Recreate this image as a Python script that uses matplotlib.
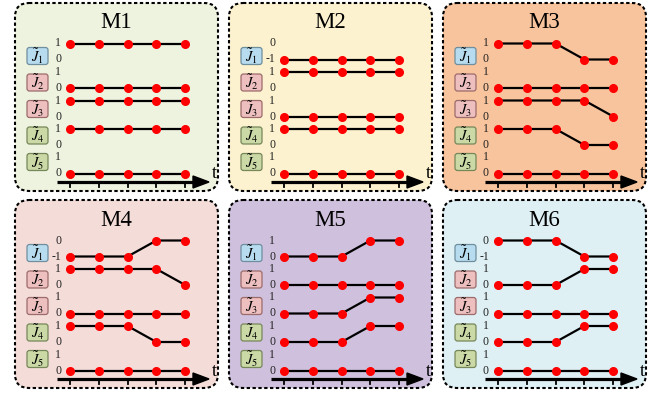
import matplotlib
matplotlib.use("Agg")
import matplotlib.pyplot as plt
from matplotlib.patches import FancyBboxPatch, Polygon
import numpy as np

plt.rcParams['font.family'] = ['Liberation Serif', 'DejaVu Serif']
plt.rcParams['mathtext.fontset'] = 'stix'

# data: values of J1..J5 at 5 time steps for each mode
titles = ["M1", "M2", "M3", "M4", "M5", "M6"]
values = {
    "M1": [[1, 1, 1, 1, 1], [0, 0, 0, 0, 0], [1, 1, 1, 1, 1], [1, 1, 1, 1, 1], [0, 0, 0, 0, 0]],
    "M2": [[-1, -1, -1, -1, -1], [1, 1, 1, 1, 1], [0, 0, 0, 0, 0], [1, 1, 1, 1, 1], [0, 0, 0, 0, 0]],
    "M3": [[1, 1, 1, 0, 0], [0, 0, 0, 0, 0], [1, 1, 1, 1, 0], [1, 1, 1, 0, 0], [0, 0, 0, 0, 0]],
    "M4": [[-1, -1, -1, 0, 0], [1, 1, 1, 1, 0], [0, 0, 0, 0, 0], [1, 1, 1, 0, 0], [0, 0, 0, 0, 0]],
    "M5": [[0, 0, 0, 1, 1], [0, 0, 0, 0, 0], [0, 0, 0, 1, 1], [0, 0, 0, 1, 1], [0, 0, 0, 0, 0]],
    "M6": [[0, 0, 0, -1, -1], [0, 0, 0, 1, 1], [0, 0, 0, 0, 0], [0, 0, 0, 1, 1], [0, 0, 0, 0, 0]],
}
# value range (low, high) of J1 in each mode; J2..J5 are always 0..1
j1_range = {"M1": (0, 1), "M2": (-1, 0), "M3": (0, 1), "M4": (-1, 0), "M5": (0, 1), "M6": (-1, 0)}
row_labels = [r"$\tilde{J}_1$", r"$\tilde{J}_2$", r"$\tilde{J}_3$", r"$\tilde{J}_4$", r"$\tilde{J}_5$"]

panel_bg = ["#eef3df", "#fdf2cf", "#f8c49d", "#f4dcd8", "#cfc1dd", "#dff0f5"]
label_fc = ["#b8dcef", "#eebfbf", "#eebfbf", "#cad9a5", "#cad9a5"]
label_ec = ["#6f8e9e", "#9c6b6b", "#9c6b6b", "#76875a", "#76875a"]

# layout in pixels
FW, FH = 664, 396
PW, PH = 205, 190
lefts = [14, 228, 442]
tops = [2, 199]
X0, DX = 56, 28.8          # first time step, spacing
ROW0, ROWSTEP, ROWH = 41.5, 28.5, 16
AXIS_Y = 180

fig = plt.figure(figsize=(FW / 100, FH / 100), dpi=100)

for i, name in enumerate(titles):
    left = lefts[i % 3]
    top = tops[i // 3]
    ax = fig.add_axes([left / FW, 1 - (top + PH) / FH, PW / FW, PH / FH])
    ax.set_xlim(0, PW)
    ax.set_ylim(PH, 0)
    ax.axis("off")

    ax.add_patch(FancyBboxPatch((1, 1), PW - 2, PH - 2,
                                boxstyle="round,pad=0,rounding_size=14",
                                fc=panel_bg[i], ec="black", lw=1.5,
                                ls=(0, (1.6, 1.2)), clip_on=False))
    ax.text(PW / 2, 21, name, ha="center", va="center", fontsize=16.5)

    xs = X0 + DX * np.arange(5)
    for r in range(5):
        lo, hi = j1_range[name] if r == 0 else (0, 1)
        y_top = ROW0 + ROWSTEP * r
        v = np.array(values[name][r], dtype=float)
        ys = y_top + (hi - v) / (hi - lo) * ROWH
        ax.plot(xs, ys, color="black", lw=1.6, zorder=3)
        ax.plot(xs, ys, "o", color="#ff0000", ms=5.5, mec="#ff0000", zorder=4)

        ax.text(47, y_top, str(hi), ha="right", va="center", fontsize=8.5, color="#222222")
        ax.text(47, y_top + ROWH, str(lo), ha="right", va="center", fontsize=8.5, color="#222222")

        bc = 54 + 26.5 * r
        ax.add_patch(FancyBboxPatch((13, bc - 8.5), 21, 17,
                                    boxstyle="round,pad=0,rounding_size=2.5",
                                    fc=label_fc[r], ec=label_ec[r], lw=0.9))
        ax.text(23.5, bc, row_labels[r], ha="center", va="center", fontsize=10.5)

    # time axis with arrow
    ax.plot([43, 182], [AXIS_Y, AXIS_Y], color="black", lw=2.3, solid_capstyle="butt")
    ax.add_patch(Polygon([[179, AXIS_Y - 6], [195, AXIS_Y], [179, AXIS_Y + 6]],
                         closed=True, color="black"))
    for x in xs:
        ax.plot([x, x], [AXIS_Y, AXIS_Y + 5], color="black", lw=1.3)
    ax.text(200, AXIS_Y - 8, "t", ha="center", va="center", fontsize=13)

fig.savefig("out.png", dpi=100)
